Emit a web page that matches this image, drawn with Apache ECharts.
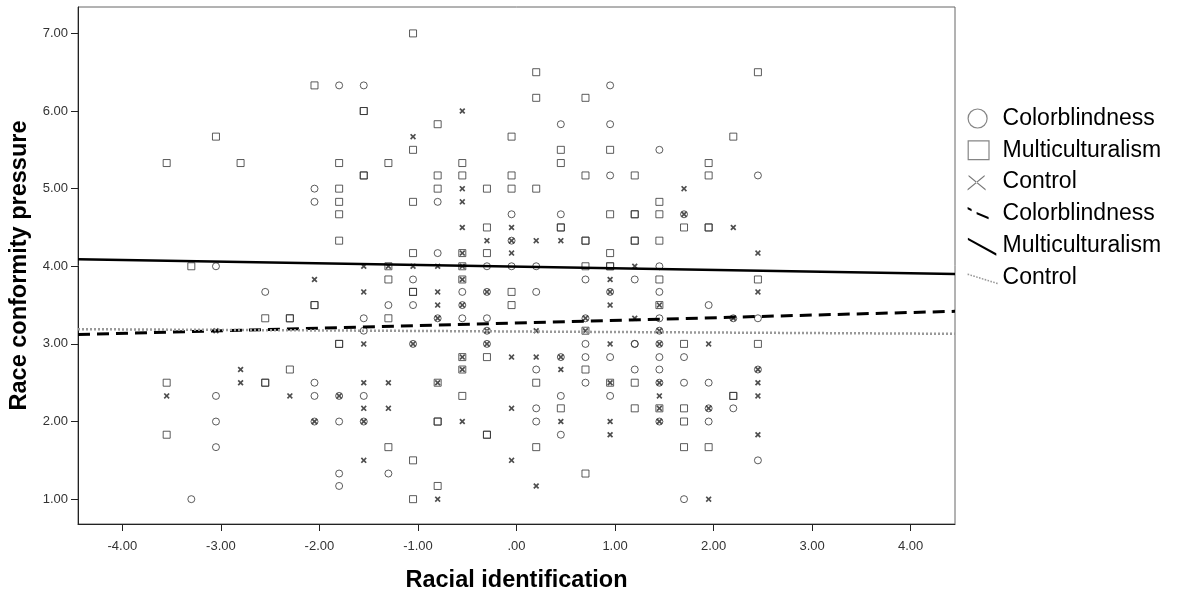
<!DOCTYPE html>
<html>
<head>
<meta charset="utf-8">
<script src="https://cdn.jsdelivr.net/npm/echarts@6/dist/echarts.min.js"></script>
<style>
  html, body { margin: 0; padding: 0; background: #fff; }
  #chart { width: 1177px; height: 596px; }
</style>
</head>
<body>
<div id="chart"></div>
<script>
// tick labels
var xTicks = [-4, -3, -2, -1, 0, 1, 2, 3, 4];
var yTicks = [1, 2, 3, 4, 5, 6, 7];

// scatter points [racial identification, race conformity pressure]
var colorblindPts = [
  [-1.80, 6.33], [-1.55, 6.33],
  [-2.05, 5.00], [-2.05, 4.83], [-3.05, 4.00], [-2.55, 3.67], [-1.55, 3.33], [-1.55, 3.17],
  [-2.05, 2.50], [-3.05, 2.33], [-2.05, 2.33], [-1.80, 2.33], [-1.55, 2.33], [-3.05, 2.00], [-2.05, 2.00],
  [-1.80, 2.00], [-1.55, 2.00], [-3.05, 1.67], [-1.80, 1.33], [-1.80, 1.17], [-3.30, 1.00],
  [0.95, 6.33], [0.45, 5.83], [0.95, 5.83], [1.45, 5.50], [0.95, 5.17],
  [-0.80, 4.83], [-0.05, 4.67], [0.45, 4.67], [-0.05, 4.33], [-0.80, 4.17], [-0.30, 4.00], [-0.05, 4.00],
  [0.20, 4.00], [1.45, 4.00], [-1.05, 3.83], [0.70, 3.83], [1.20, 3.83],
  [-0.55, 3.67], [-0.30, 3.67], [0.20, 3.67], [0.95, 3.67], [1.45, 3.67],
  [-1.30, 3.50], [-1.05, 3.50], [-0.55, 3.50],
  [-0.80, 3.33], [-0.55, 3.33], [-0.30, 3.33], [0.70, 3.33], [1.45, 3.33],
  [-0.30, 3.17], [1.45, 3.17],
  [-1.05, 3.00], [-0.30, 3.00], [0.70, 3.00], [1.20, 3.00], [1.20, 3.00], [1.45, 3.00],
  [0.45, 2.83], [0.70, 2.83], [0.95, 2.83], [1.45, 2.83],
  [0.20, 2.67], [1.20, 2.67], [1.45, 2.67], [0.70, 2.50], [1.45, 2.50],
  [0.45, 2.33], [0.95, 2.33], [0.20, 2.17], [0.20, 2.00], [1.45, 2.00], [0.45, 1.83], [-1.30, 1.33],
  [2.45, 5.17], [1.70, 4.67], [1.95, 3.50], [2.20, 3.33], [2.45, 3.33], [1.70, 2.83], [2.45, 2.67],
  [1.70, 2.50], [1.95, 2.50], [1.95, 2.17], [2.20, 2.17], [1.95, 2.00], [2.45, 1.50], [1.70, 1.00]
];

var multiPts = [
  [-2.05, 6.33], [-1.55, 6.00], [-1.55, 6.00], [-3.05, 5.67], [-3.55, 5.33], [-2.80, 5.33], [-1.80, 5.33],
  [-1.55, 5.17], [-1.55, 5.17], [-1.80, 5.00], [-1.80, 4.83], [-1.80, 4.67], [-1.80, 4.33], [-3.30, 4.00],
  [-2.05, 3.50], [-2.05, 3.50], [-2.55, 3.33], [-2.30, 3.33], [-2.30, 3.33], [-1.80, 3.00], [-1.80, 3.00],
  [-2.30, 2.67], [-3.55, 2.50], [-2.55, 2.50], [-2.55, 2.50], [-3.55, 1.83],
  [-1.05, 7.00], [0.20, 6.50], [0.20, 6.17], [0.70, 6.17], [-0.80, 5.83], [-0.05, 5.67], [-1.05, 5.50],
  [0.45, 5.50], [0.95, 5.50], [-1.30, 5.33], [-0.55, 5.33], [0.45, 5.33], [-0.80, 5.17], [-0.55, 5.17],
  [-0.05, 5.17], [0.70, 5.17], [1.20, 5.17],
  [-0.80, 5.00], [-0.30, 5.00], [-0.05, 5.00], [0.20, 5.00], [-1.05, 4.83], [1.45, 4.83], [0.95, 4.67],
  [1.20, 4.67], [1.20, 4.67], [1.45, 4.67], [-0.30, 4.50], [0.45, 4.50], [0.45, 4.50], [0.70, 4.33],
  [0.70, 4.33], [1.20, 4.33], [1.20, 4.33], [1.45, 4.33],
  [-1.05, 4.17], [-0.55, 4.17], [-0.30, 4.17], [0.95, 4.17], [-1.30, 4.00], [-0.55, 4.00], [0.70, 4.00],
  [0.95, 4.00], [0.95, 4.00], [-1.30, 3.83], [-0.55, 3.83], [1.45, 3.83], [-1.05, 3.67], [-1.05, 3.67],
  [-0.05, 3.67], [-0.05, 3.50], [1.45, 3.50], [-1.30, 3.33], [0.70, 3.17], [-0.55, 2.83], [-0.30, 2.83],
  [-0.55, 2.67], [0.70, 2.67], [-0.80, 2.50], [0.20, 2.50], [0.95, 2.50], [1.20, 2.50], [-0.55, 2.33],
  [0.45, 2.17], [1.20, 2.17], [1.45, 2.17], [-0.80, 2.00], [-0.80, 2.00], [-0.30, 1.83], [-0.30, 1.83],
  [-1.30, 1.67], [0.20, 1.67], [-1.05, 1.50], [0.70, 1.33], [-0.80, 1.17], [-1.05, 1.00],
  [2.45, 6.50], [2.20, 5.67], [1.95, 5.33], [1.95, 5.17], [1.70, 4.50], [1.95, 4.50], [1.95, 4.50],
  [2.45, 3.83], [1.70, 3.00], [2.45, 3.00], [2.20, 2.33], [2.20, 2.33], [1.70, 2.17], [1.70, 2.00],
  [1.70, 1.67], [1.95, 1.67]
];

var controlPts = [
  [-1.55, 4.00], [-2.05, 3.83], [-1.55, 3.67], [-1.55, 3.00], [-3.05, 3.17],
  [-2.80, 2.67], [-2.80, 2.50], [-1.55, 2.50], [-3.55, 2.33], [-2.30, 2.33], [-1.55, 2.17], [-1.80, 2.33],
  [-2.05, 2.00], [-1.55, 2.00], [-1.55, 1.50],
  [-0.55, 6.00], [-1.05, 5.67],
  [-0.55, 5.00], [-0.55, 4.83], [-0.55, 4.50], [-0.05, 4.50], [-0.30, 4.33], [-0.05, 4.33], [0.20, 4.33],
  [0.45, 4.33], [-0.55, 4.17], [-0.05, 4.17], [-1.30, 4.00], [-1.05, 4.00], [-0.80, 4.00], [-0.55, 4.00],
  [1.20, 4.00], [-0.55, 3.83], [0.95, 3.83], [-0.80, 3.67], [-0.30, 3.67], [0.95, 3.67], [-0.80, 3.50],
  [-0.55, 3.50], [0.95, 3.50], [1.45, 3.50], [-0.80, 3.33], [0.70, 3.33], [1.20, 3.33], [-0.30, 3.17],
  [0.20, 3.17], [0.70, 3.17], [1.45, 3.17], [-1.05, 3.00], [-0.30, 3.00], [0.95, 3.00], [1.45, 3.00],
  [-0.55, 2.83], [-0.05, 2.83], [0.20, 2.83], [0.45, 2.83],
  [-0.55, 2.67], [0.45, 2.67], [-1.30, 2.50], [-0.80, 2.50], [0.95, 2.50], [1.45, 2.50], [1.45, 2.33],
  [-1.30, 2.17], [-0.05, 2.17], [1.45, 2.17], [-0.55, 2.00], [0.45, 2.00], [0.95, 2.00], [1.45, 2.00],
  [0.95, 1.83], [-0.05, 1.50], [0.20, 1.17], [-0.80, 1.00],
  [1.70, 5.00], [1.70, 4.67], [2.20, 4.50], [2.45, 4.17], [2.45, 3.67], [2.20, 3.33], [1.95, 3.00],
  [2.45, 2.67], [2.45, 2.50], [2.45, 2.33], [1.95, 2.17], [2.45, 1.83], [1.95, 1.00]
];

// fit lines, ends at the axis limits
var colorblindFit = [[-4.45, 3.12], [4.45, 3.42]];
var multiFit = [[-4.45, 4.09], [4.45, 3.90]];
var controlFit = [[-4.45, 3.19], [4.45, 3.13]];

var FONT = '"Liberation Sans", Arial, sans-serif';
var crossPath = 'path://M0,2L2,0L5,3L8,0L10,2L7,5L10,8L8,10L5,7L2,10L0,8L3,5Z';

// legend icons, all drawn in a 30x20 box
function bar(x1, y1, x2, y2, t) {
  return 'M' + x1 + ',' + y1 + 'L' + x2 + ',' + y2 + 'L' + x2 + ',' + (y2 + t) + 'L' + x1 + ',' + (y1 + t) + 'Z';
}
var box = 'M0,0M30,20';
var iconCircle = 'path://M0.5,10A9.5,9.5 0 1,1 19.5,10A9.5,9.5 0 1,1 0.5,10Z' + box;
var iconSquare = 'path://M0,0L22,0L22,20L0,20L0,0L1.2,1.2L1.2,18.8L20.8,18.8L20.8,1.2L1.2,1.2Z' + box;
var iconCross = 'path://' + bar(1, 3, 18, 17, 1.3) + bar(17, 3, 0, 17, 1.3) + box;
var iconDash = 'path://' + bar(0, 3, 4, 5, 2.4) + bar(9, 8, 21, 13, 2.4) + box;
var iconSolid = 'path://' + bar(0, 2, 29, 18, 2.4) + box;
var iconDot = 'path://';
for (var i = 0; i < 11; i++) {
  var dx = i * 2.9, dy = 6 + i * 0.9;
  iconDot += bar(dx, dy, dx + 1.6, dy + 0.2, 1.6);
}
iconDot += box;

var myChart = echarts.init(document.getElementById('chart'));
var option = {
  animation: false,
  backgroundColor: '#fff',
  grid: {
    left: 78, right: 222, top: 7, bottom: 72,
    outerBoundsMode: 'none',
    show: true, borderColor: '#666', borderWidth: 1
  },
  legend: {
    orient: 'vertical',
    left: 962,
    top: 102,
    itemWidth: 30,
    itemHeight: 20,
    itemGap: 8.8,
    symbolKeepAspect: true,
    textStyle: { fontFamily: FONT, fontSize: 23, color: '#000', lineHeight: 22 },
    data: [
      { name: 'Colorblindness', icon: iconCircle, itemStyle: { color: 'transparent', borderColor: '#666', borderWidth: 1.2 } },
      { name: 'Multiculturalism', icon: iconSquare, itemStyle: { color: '#666', borderWidth: 0 } },
      { name: 'Control', icon: iconCross, itemStyle: { color: '#555', borderWidth: 0 } },
      { name: 'Colorblindness ', icon: iconDash, itemStyle: { color: '#000', borderWidth: 0 } },
      { name: 'Multiculturalism ', icon: iconSolid, itemStyle: { color: '#000', borderWidth: 0 } },
      { name: 'Control ', icon: iconDot, itemStyle: { color: '#999', borderWidth: 0 } }
    ]
  },
  xAxis: {
    type: 'value',
    min: -4.45,
    max: 4.45,
    name: 'Racial identification',
    nameLocation: 'middle',
    nameGap: 45,
    nameTextStyle: { fontFamily: FONT, fontSize: 23.5, fontWeight: 'bold', color: '#000' },
    axisLine: { show: true, onZero: false, lineStyle: { color: '#222', width: 1 } },
    axisTick: { show: true, length: 7, customValues: xTicks, lineStyle: { color: '#222' } },
    axisLabel: {
      customValues: xTicks,
      margin: 16,
      fontFamily: FONT, fontSize: 13, color: '#333',
      formatter: function (v) { return v === 0 ? '.00' : v.toFixed(2); }
    },
    splitLine: { show: false }
  },
  yAxis: {
    type: 'value',
    min: 0.68,
    max: 7.34,
    name: 'Race conformity pressure',
    nameLocation: 'middle',
    nameGap: 37,
    nameTextStyle: { fontFamily: FONT, fontSize: 23.5, fontWeight: 'bold', color: '#000' },
    axisLine: { show: true, onZero: false, lineStyle: { color: '#222', width: 1 } },
    axisTick: { show: true, length: 7, customValues: yTicks, lineStyle: { color: '#222' } },
    axisLabel: {
      customValues: yTicks,
      margin: 10,
      fontFamily: FONT, fontSize: 13, color: '#333',
      formatter: function (v) { return v.toFixed(2); }
    },
    splitLine: { show: false }
  },
  series: [
    {
      name: 'Colorblindness', type: 'scatter', data: colorblindPts,
      symbol: 'circle', symbolSize: 7,
      itemStyle: { color: 'transparent', borderColor: '#333', borderWidth: 1 }
    },
    {
      name: 'Multiculturalism', type: 'scatter', data: multiPts,
      symbol: 'rect', symbolSize: 7,
      itemStyle: { color: 'transparent', borderColor: '#333', borderWidth: 1 }
    },
    {
      name: 'Control', type: 'scatter', data: controlPts,
      symbol: crossPath, symbolSize: 6,
      itemStyle: { color: '#222' }
    },
    {
      name: 'Colorblindness ', type: 'line', data: colorblindFit, symbol: 'none',
      color: '#000',
      lineStyle: { color: '#000', width: 3, type: [12, 7] }
    },
    {
      name: 'Multiculturalism ', type: 'line', data: multiFit, symbol: 'none',
      color: '#000',
      lineStyle: { color: '#000', width: 2.5 }
    },
    {
      name: 'Control ', type: 'line', data: controlFit, symbol: 'none',
      color: '#999',
      lineStyle: { color: '#999', width: 2.5, type: [2, 2] }
    }
  ]
};
myChart.setOption(option);
</script>
</body>
</html>
